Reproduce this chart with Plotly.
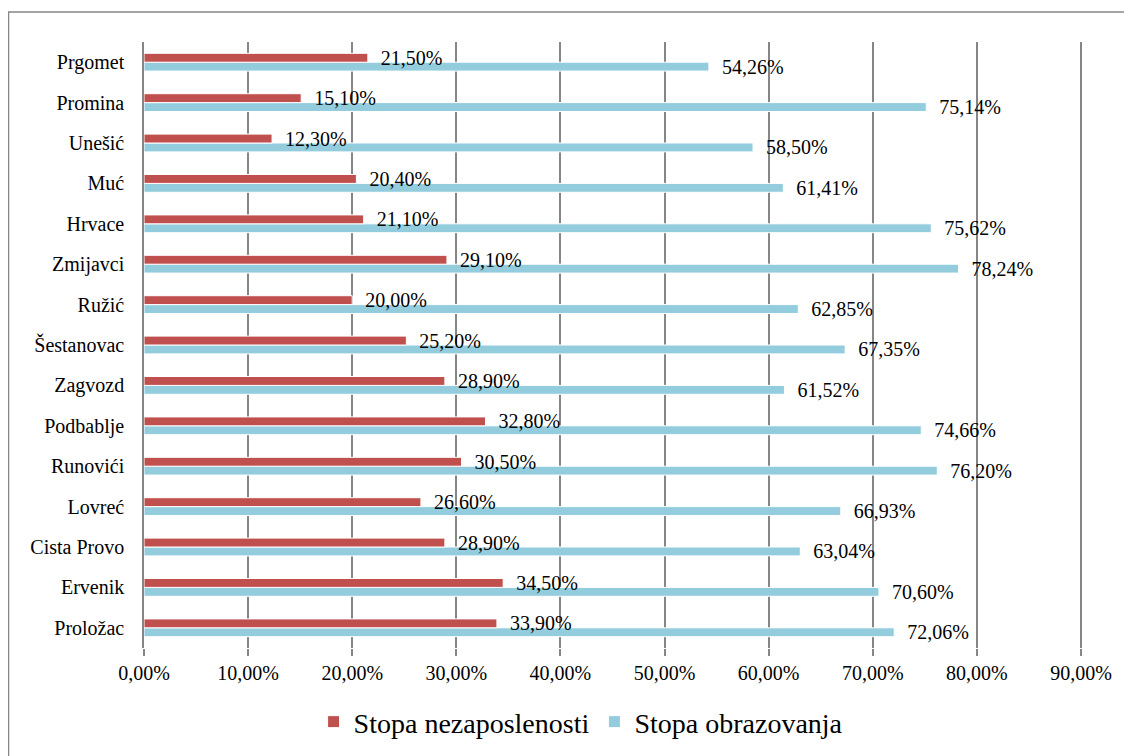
import plotly.graph_objects as go

categories = ["Prgomet", "Promina", "Unešić", "Muć", "Hrvace", "Zmijavci", "Ružić",
              "Šestanovac", "Zagvozd", "Podbablje", "Runovići", "Lovreć",
              "Cista Provo", "Ervenik", "Proložac"]
nezaposlenost = [21.50, 15.10, 12.30, 20.40, 21.10, 29.10, 20.00, 25.20, 28.90,
                 32.80, 30.50, 26.60, 28.90, 34.50, 33.90]
obrazovanje = [54.26, 75.14, 58.50, 61.41, 75.62, 78.24, 62.85, 67.35, 61.52,
               74.66, 76.20, 66.93, 63.04, 70.60, 72.06]
tick_vals = [0, 10, 20, 30, 40, 50, 60, 70, 80, 90]
tick_text = ["0,00%", "10,00%", "20,00%", "30,00%", "40,00%", "50,00%",
             "60,00%", "70,00%", "80,00%", "90,00%"]

# bottom-to-top order for plotly category axis
cats = categories[::-1]
nez = nezaposlenost[::-1]
obr = obrazovanje[::-1]


def fmt(v):
    return "  " + f"{v:.2f}".replace(".", ",") + "%"


FONT = "Liberation Serif"

fig = go.Figure()
fig.add_trace(go.Bar(
    y=cats, x=obr, orientation="h", name="Stopa obrazovanja",
    marker=dict(color="#93CDDD", line=dict(color="white", width=1)),
    text=[fmt(v) for v in obr], textposition="outside", cliponaxis=False,
    constraintext="none",
    textfont=dict(family=FONT, size=20, color="black"),
))
fig.add_trace(go.Bar(
    y=cats, x=nez, orientation="h", name="Stopa nezaposlenosti",
    marker=dict(color="#C0504D", line=dict(color="white", width=1)),
    text=[fmt(v) for v in nez], textposition="outside", cliponaxis=False,
    constraintext="none",
    textfont=dict(family=FONT, size=20, color="black"),
))

fig.update_layout(
    width=1132, height=756,
    margin=dict(l=136, r=58, t=34, b=116),
    paper_bgcolor="white", plot_bgcolor="white",
    barmode="group", bargap=0.56, bargroupgap=0.0,
    font=dict(family=FONT, size=20, color="black"),
    showlegend=True,
    legend=dict(orientation="h", x=0.466, xanchor="center", y=-0.122, yanchor="middle",
                traceorder="reversed", font=dict(family=FONT, size=28)),
    xaxis=dict(range=[0, 90.1], tickvals=tick_vals, ticktext=tick_text,
               showgrid=True, gridcolor="#868686", gridwidth=1.5,
               ticks="outside", ticklen=7, tickcolor="#868686", tickwidth=1.5,
               showline=False, zeroline=False,
               tickfont=dict(family=FONT, size=20)),
    yaxis=dict(showline=True, linecolor="#868686", linewidth=1.5,
               ticks="", ticklabelstandoff=14,
               tickfont=dict(family=FONT, size=20)),
    shapes=[dict(type="rect", xref="paper", yref="paper",
                 x0=-135.5 / 938, x1=1.2, y0=-0.3, y1=1.0495,
                 line=dict(color="#868686", width=1.5), fillcolor="rgba(0,0,0,0)",
                 layer="below")],
)

fig.write_html("out.html")
